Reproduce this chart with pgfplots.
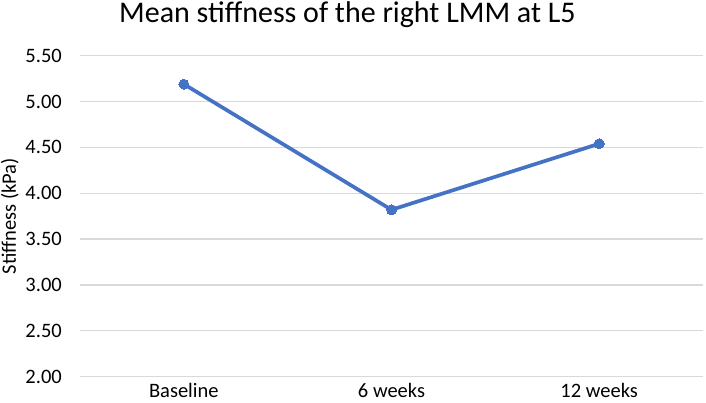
\documentclass[border=0pt]{standalone}
\usepackage{pgfplots}
\pgfplotsset{compat=1.18}
\usepackage{fontspec}
\setmainfont{Carlito}
\definecolor{exblue}{HTML}{4472C4}
\definecolor{gridgray}{HTML}{D9D9D9}
\begin{document}
\begin{tikzpicture}
\begin{axis}[
  at={(0,0)}, anchor=south west,
  scale only axis, width=623pt, height=321pt,
  xmin=-0.5, xmax=2.5, ymin=2, ymax=5.5,
  ytick={2,2.5,3,3.5,4,4.5,5,5.5},
  xtick={0,1,2}, xticklabels={Baseline,6 weeks,12 weeks},
  axis line style={draw=none},
  major tick length=0pt,
  ymajorgrids, grid style={gridgray, line width=1.3pt},
  /pgf/number format/assume math mode=true,
  yticklabel={\pgfmathprintnumber[fixed,fixed zerofill,precision=2]{\tick}},
  yticklabel style={font=\fontsize{20.5}{24}\selectfont, inner sep=0pt, anchor=east, xshift=-18pt},
  xticklabel style={font=\fontsize{20.5}{24}\selectfont, inner sep=0pt, anchor=base, yshift=-21pt},
  clip=false,
]
\addplot[exblue, line width=3.7pt, mark=*, mark size=5pt, mark options={fill=exblue, draw=exblue, line width=0pt}] coordinates {
  (0,5.19) (1,3.82) (2,4.54)
};
\end{axis}
\node[rotate=90, anchor=base, inner sep=0pt, font=\fontsize{20.5}{24}\selectfont] at (-64pt,160.5pt) {Stiffness (kPa)};
\node[anchor=base, inner sep=0pt, font=\fontsize{30}{35}\selectfont] at (267.5pt,353.7pt) {Mean stiffness of the right LMM at L5};
\pgfresetboundingbox
\useasboundingbox (-80pt,-25.3pt) rectangle (626pt,376.7pt);
\end{tikzpicture}
\end{document}
